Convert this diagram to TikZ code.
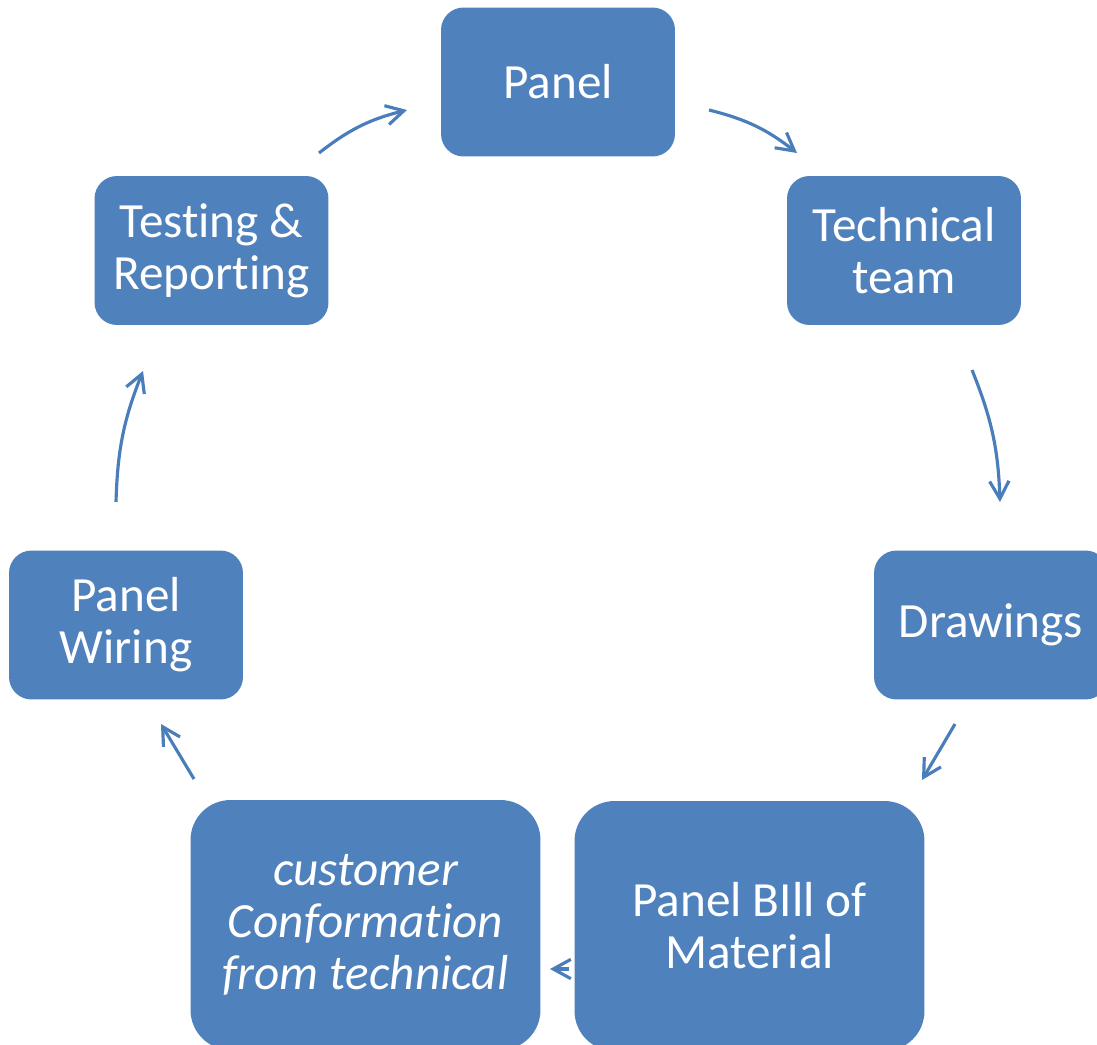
\documentclass[tikz,border=0pt]{standalone}
\usepackage{fontspec}
\setmainfont{Carlito}[Ligatures=NoCommon]
\usetikzlibrary{arrows.meta}
\definecolor{boxblue}{HTML}{4F81BD}
\definecolor{arrowblue}{HTML}{4A7EBB}
\tikzset{stagebox/.style = {fill=boxblue, text=white, align=center, inner sep=0pt,
                            rounded corners=0.45cm, minimum width=4.68cm, minimum height=2.98cm,
                            font=\fontsize{28}{29.5}\selectfont}}
\tikzset{bigstage/.style = {stagebox, rounded corners=0.8cm, minimum width=7cm, minimum height=5cm}}
\tikzset{flow/.style = {draw=arrowblue, line width=1.8pt,
                        -{Straight Barb[length=10pt,width=11pt]}}}
\begin{document}
\begin{tikzpicture}[x=0.02cm, y=-0.02cm]
		\useasboundingbox (0,0) rectangle (1097,1044);
		\node [stagebox] (panel) at (558, 82) {Panel};
		\node [stagebox] (tech) at (904, 250.5) {Technical\\team};
		\node [stagebox] (draw) at (991, 625) {Drawings};
		\node [bigstage] (bom) at (749.5, 926) {Panel BIll of\\Material};
		\node [bigstage, font=\fontsize{28}{29.5}\selectfont\itshape] (cust) at (365.5, 925) {customer\\Conformation\\from technical};
		\node [stagebox] (wire) at (126, 625) {Panel\\Wiring};
		\node [stagebox] (test) at (211.5, 250.5) {Testing \&\\Reporting};
		\coordinate (a0) at (709, 110);
		\coordinate (a1) at (797, 153);
		\coordinate (b0) at (972, 370);
		\coordinate (b1) at (1000, 502);
		\coordinate (c0) at (955, 724);
		\coordinate (c1) at (922, 780);
		\coordinate (d0) at (569, 969);
		\coordinate (d1) at (550, 969);
		\coordinate (e0) at (194, 779);
		\coordinate (e1) at (161, 724);
		\coordinate (f0) at (116, 502);
		\coordinate (f1) at (143, 371);
		\coordinate (g0) at (319, 153);
		\coordinate (g1) at (407, 110);
		\draw [flow] (a0) to [bend left=12] (a1);
		\draw [flow] (b0) to [bend left=10] (b1);
		\draw [flow] (c0) to (c1);
		\draw [flow] (d0) to (d1);
		\draw [flow] (e0) to (e1);
		\draw [flow] (f0) to [bend left=10] (f1);
		\draw [flow] (g0) to [bend left=12] (g1);
\end{tikzpicture}
\end{document}
